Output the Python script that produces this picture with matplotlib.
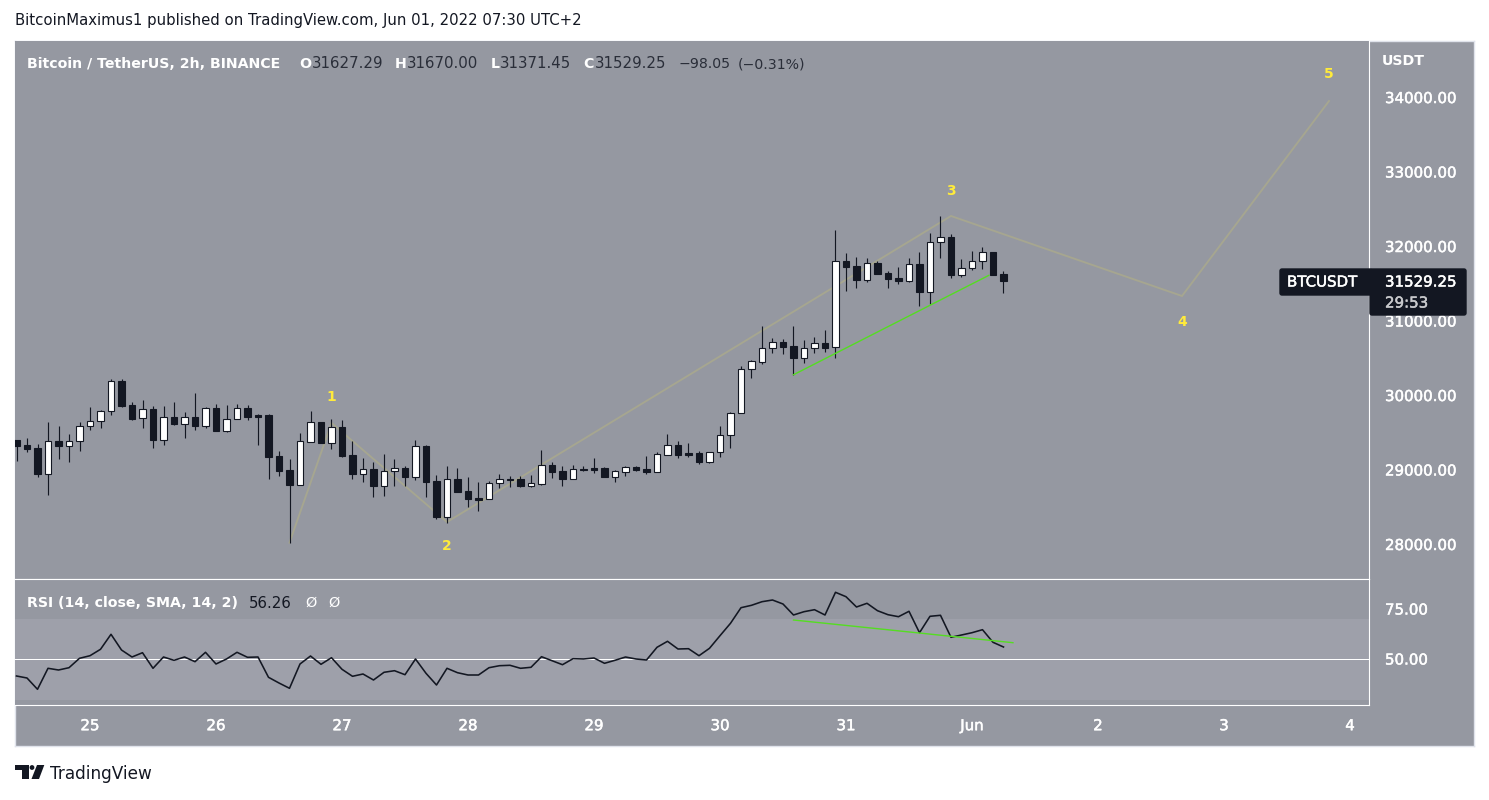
import matplotlib
matplotlib.use("Agg")
import matplotlib.pyplot as plt
import matplotlib.patheffects as pe
from matplotlib.patches import Polygon, FancyBboxPatch, Circle

# ---------- data ----------
first_index = -7  # candle 0 is the 00:00 candle of May 25; 12 candles per day
opens = [29396,29329,29289,28944,29378,29320,29378,29580,29647,29781,30184,29866,29687,29808,29401,29700,29615,29700,29589,29821,29521,29674,29821,29727,
         29732,29181,28993,28797,29374,29633,29360,29566,29190,28944,29002,28783,28975,29016,28904,29311,28841,28367,28868,28707,28613,28600,28814,28868,
         28868,28783,28810,29056,28975,28877,29002,29015,29015,28903,28971,29033,29002,28971,29199,29324,29217,29217,29105,29230,29458,29754,30344,
         30447,30626,30706,30657,30501,30626,30693,30639,31794,31731,31548,31767,31633,31566,31534,31753,31387,32049,32116,31615,31709,31794,31915,31619]
highs = [29396,29419,29342,29638,29584,29477,29638,29839,29799,30210,30210,29906,29933,29853,29853,29906,29772,30027,29839,29879,29866,29879,29866,29741,
         29745,29248,29141,29490,29785,29633,29678,29665,29383,29154,29101,29208,29141,29047,29396,29329,28926,29047,29020,28899,28832,28846,28940,28913,
         28912,28926,29261,29100,29047,29060,29047,29154,29033,28993,29047,29047,29181,29235,29476,29382,29355,29248,29230,29584,29772,30389,30470,
         30926,30765,30751,30926,30738,30778,30872,32214,31906,31852,31838,31798,31664,31718,31838,31919,32174,32402,32161,31825,31932,31986,31915,31664]
lows = [29119,29240,28904,28662,29146,29105,29253,29535,29562,29736,29844,29669,29562,29293,29334,29602,29427,29535,29562,29521,29508,29674,29669,29334,
        28877,28917,28018,28797,29374,29360,29280,29172,28877,28832,28635,28649,28783,28783,28864,28635,28340,28286,28703,28501,28448,28600,28756,28770,
        28769,28769,28796,28890,28783,28877,28980,28957,28903,28832,28917,28984,28944,28971,29199,29159,29172,29078,29091,29172,29293,29754,30232,
        30420,30568,30554,30272,30434,30568,30581,30501,31400,31440,31521,31628,31440,31494,31521,31199,31221,31843,31574,31588,31682,31695,31615,31373]
closes = [29320,29280,28944,29378,29320,29378,29580,29647,29781,30184,29857,29683,29808,29401,29700,29615,29700,29589,29821,29521,29674,29821,29709,29709,
          29172,28984,28797,29378,29633,29360,29566,29186,28944,29002,28783,28975,29016,28904,29311,28837,28367,28868,28703,28609,28595,28814,28868,28859,
          28783,28814,29056,28971,28877,29002,28993,28998,28903,28975,29029,28998,28971,29203,29324,29199,29199,29105,29230,29458,29754,30344,30452,
          30626,30706,30648,30501,30626,30693,30635,31794,31722,31548,31767,31628,31561,31534,31753,31387,32049,32116,31615,31709,31794,31915,31615,31529.25]
rsi = [41.25,40.25,34.6,45.1,44.25,45.4,50.1,51.4,54.6,62.1,54.25,50.75,52.9,45.1,50.75,49.1,50.75,48.4,53.1,47.25,49.75,53.1,50.6,50.75,
       40.6,37.75,35.1,47.25,51.25,47.1,50.4,44.6,41.1,42.25,39.25,43.1,43.9,41.9,49.75,42.6,36.75,45.1,42.9,41.75,41.75,45.4,46.4,46.6,
       45.1,45.6,50.9,48.9,46.9,49.9,49.75,50.25,47.6,49.1,50.75,49.75,49.25,55.6,58.6,54.75,54.9,51.4,55.1,61.4,67.6,75.4,76.6,
       78.4,79.25,77.25,71.75,73.4,74.4,71.75,83.1,80.9,75.75,77.6,73.9,71.9,70.9,73.6,62.9,71.1,71.6,60.6,61.75,62.9,64.4,58.1,55.75]
wave_x = [19, 23, 34, 82, 104, 118]
wave_y = [28018, 29624, 28295, 32403, 31329, 33946]
wave_labels = ["1", "2", "3", "4", "5"]
trend_price_x = [67, 85.6]
trend_price_y = [30272, 31606]
trend_rsi_x = [67, 87.9]
trend_rsi_y = [69.25, 57.9]
day_ticks = [0, 12, 24, 36, 48, 60, 72, 84, 96, 108, 120]
day_labels = ["25", "26", "27", "28", "29", "30", "31", "Jun", "2", "3", "4"]
price_ticks = [28000, 29000, 30000, 31000, 32000, 33000, 34000]
rsi_ticks = [50, 75]
rsi_band = (29.2, 69.6)

# ---------- style ----------
plt.rcParams["font.family"] = ["DejaVu Sans"]
BG = "#9598a1"
BAND = "#9ea0aa"
DARK = "#131722"
TAN = "#a6a690"
GREEN = "#55dd22"
YEL = "#ffeb3b"
W, H = 1489, 800
fig = plt.figure(figsize=(W / 100, H / 100), dpi=100, facecolor="white")
HEAVY = [pe.withStroke(linewidth=0.35, foreground="white")]

def axpx(l, t, r, b, **kw):
    return fig.add_axes([l / W, 1 - b / H, (r - l) / W, (b - t) / H], **kw)

L, R, AR, TOP, MID, BOT, AB = 15, 1369, 1474, 41, 579, 705, 746
xlim = (-7.143, 121.81)

back = axpx(L, TOP, AR, AB, facecolor=BG)
back.set_xticks([]); back.set_yticks([])
for s in back.spines.values():
    s.set_color("#e0e3eb"); s.set_linewidth(1)

ax = axpx(L, TOP, R, MID, facecolor=BG)
rx = axpx(L, MID, R, BOT, facecolor=BG)
for a in (ax, rx):
    a.set_xlim(*xlim)
    for s in a.spines.values():
        s.set_visible(False)
    for side in ("right", "top", "bottom"):
        a.spines[side].set_visible(True)
        a.spines[side].set_color("white")
        a.spines[side].set_linewidth(0.8)
ax.spines["top"].set_visible(False)

ax.set_ylim(27530, 34752)
rx.set_ylim(26.75, 89.75)

ax.yaxis.tick_right()
ax.set_yticks(price_ticks)
ax.set_yticklabels([f"{v:.2f}" for v in price_ticks], color="white", fontsize=10.8)
ax.tick_params(axis="y", length=0, pad=11.5)
ax.set_xticks([])
rx.yaxis.tick_right()
rx.set_yticks(rsi_ticks)
rx.set_yticklabels([f"{v:.2f}" for v in rsi_ticks], color="white", fontsize=10.8)
rx.tick_params(axis="y", length=0, pad=11.5)
rx.set_xticks(day_ticks)
rx.set_xticklabels(day_labels, color="white", fontsize=10.8)
rx.tick_params(axis="x", length=0, pad=9.5)
for lab in ax.get_yticklabels() + rx.get_yticklabels() + rx.get_xticklabels():
    lab.set_path_effects(HEAVY)

# candles
idx = [first_index + i for i in range(len(opens))]
px = 72 / 100
ax.vlines(idx, lows, highs, color=DARK, lw=1.15 * px, zorder=3)
bott = [min(o, c) for o, c in zip(opens, closes)]
hgt = [max(abs(c - o), 14) for o, c in zip(opens, closes)]
cols = ["white" if c > o else DARK for o, c in zip(opens, closes)]
ax.bar(idx, hgt, bottom=bott, width=0.6, color=cols, edgecolor=DARK, linewidth=1.1 * px, zorder=4)

# wave and trend lines
ax.plot(wave_x, wave_y, color=TAN, lw=1.9 * px, zorder=2, solid_joinstyle="miter")
ax.plot(trend_price_x, trend_price_y, color=GREEN, lw=1.4 * px, zorder=5)
offsets = [26, -24, 25, -26, 27]
for x, y, s, off in zip(wave_x[1:], wave_y[1:], wave_labels, offsets):
    ax.annotate(s, (x, y), xytext=(0, off * px), textcoords="offset points", ha="center", va="center",
                color=YEL, fontsize=10, fontweight="bold", zorder=6)

# RSI
rx.axhspan(*rsi_band, color=BAND, lw=0, zorder=0)
rx.axhline(50, color="white", lw=1.0 * px, zorder=1)
rx.plot(idx, rsi, color=DARK, lw=1.6 * px, zorder=3)
rx.plot(trend_rsi_x, trend_rsi_y, color=GREEN, lw=1.4 * px, zorder=4)

# ---------- overlay text and furniture ----------
ov = axpx(0, 0, W, H)
ov.set_xlim(0, W); ov.set_ylim(H, 0); ov.axis("off"); ov.patch.set_alpha(0)

def T(x, y, s, c="white", size=10.4, w="normal", ha="left"):
    ov.text(x, y, s, color=c, fontsize=size, fontweight=w, ha=ha, va="center")

T(15, 21, "BitcoinMaximus1 published on TradingView.com, Jun 01, 2022 07:30 UTC+2", DARK, 10.7)
T(27, 64, "Bitcoin / TetherUS, 2h, BINANCE", "white", 10.2, "bold")
for x, lab in [(299, "O"), (395, "H"), (491, "L"), (583, "C")]:
    T(x, 64, lab, "white", 10.2, "bold")
for x, val in [(312, "31627.29"), (407, "31670.00"), (500, "31371.45"), (595, "31529.25")]:
    T(x, 64, val, "#2a2e39", 10.8)
T(678, 64, "\u221298.05", "#2a2e39", 10.2)
T(738, 64, "(\u22120.31%)", "#2a2e39", 10.2)
T(27, 603, "RSI (14, close, SMA, 14, 2)", "white", 10.2, "bold")
T(249, 603, "56.26", DARK, 10.8)
T(305, 603, "\u00d8", "white", 10.4)
T(328, 603, "\u00d8", "white", 10.4)
T(1382, 61, "USDT", "white", 10.2, "bold")

ov.add_patch(FancyBboxPatch((1280, 269), 92, 26, boxstyle="round,pad=0,rounding_size=2", fc=DARK, ec=DARK, lw=1, zorder=8))
ov.add_patch(FancyBboxPatch((1370, 269), 96, 46, boxstyle="round,pad=0,rounding_size=2", fc=DARK, ec=DARK, lw=1, zorder=8))
for args in [(1287, 282, "BTCUSDT", "white", 10.8), (1385, 282, "31529.25", "white", 10.8),
             (1385, 303, "29:53", "#c8c9cc", 10.8)]:
    t = ov.text(args[0], args[1], args[2], color=args[3], fontsize=args[4], ha="left", va="center", zorder=9)
    t.set_path_effects([pe.withStroke(linewidth=0.35, foreground=args[3])])

# TradingView logo
ov.add_patch(Polygon([(15, 765), (29, 765), (29, 779), (21.5, 779), (21.5, 770), (15, 770)], fc=DARK, ec="none"))
ov.add_patch(Circle((32, 767.5), 2.4, fc=DARK, ec="none"))
ov.add_patch(Polygon([(37, 765), (44.3, 765), (39, 779), (31.5, 779)], fc=DARK, ec="none"))
T(50, 774, "TradingView", DARK, 12.2)

fig.savefig("out.png", dpi=100, facecolor="white")
